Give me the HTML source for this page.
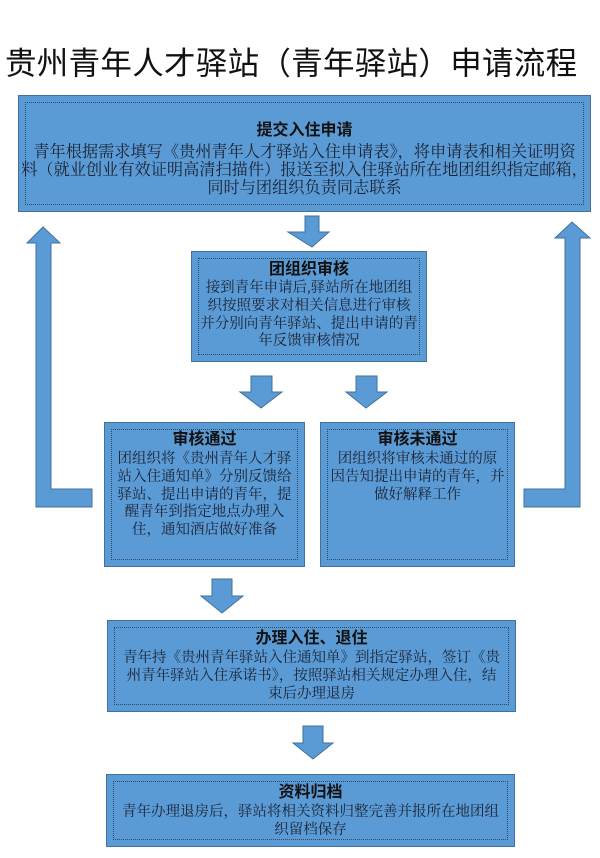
<!DOCTYPE html>
<html><head><meta charset="utf-8"><style>
html,body{margin:0;padding:0;background:#fff;width:600px;height:858px;overflow:hidden;position:relative;font-family:"Liberation Sans","Noto Sans CJK SC",sans-serif;}
.t{position:absolute;left:5px;top:38px;font-size:31.5px;color:#111;white-space:nowrap;letter-spacing:0.3px;}
.box{position:absolute;background:#5b9bd5;border:1.5px solid #41719c;box-sizing:border-box;}
.box .in{position:absolute;left:6px;right:6px;top:6px;bottom:6px;border:1px dotted #2b4a6a;}
.txt{position:absolute;left:-10px;right:-10px;text-align:center;color:#1a2233;font-family:"Liberation Serif","Noto Serif CJK SC",serif;white-space:nowrap;}
.h{font-family:"Liberation Sans","Noto Sans CJK SC",sans-serif;font-weight:bold;font-size:16px;color:#111;line-height:20px;}
.b{font-size:14.5px;line-height:17.8px;}
svg{position:absolute;left:0;top:0;}
</style></head><body>
<div class="t">贵州青年人才驿站（青年驿站）申请流程</div>
<svg width="600" height="858">
<g fill="#5b9bd5" stroke="#41719c" stroke-width="1">
<polygon points="305,216 319,216 319,232 329,232 312,247 288,232 305,232"/>
<polygon points="251,376 272,376 272,392 282,392 261,408 240,392 251,392"/>
<polygon points="356,376 377,376 377,392 387,392 366,408 346,392 356,392"/>
<polygon points="212,579 232,579 232,596 243,596 222,613 201,596 212,596"/>
<polygon points="303,726 323,726 323,743 333,743 313,759 293,743 303,743"/>
<polygon points="36,507 92,507 92,489 51,489 51,243 60,243 43,227 27,243 36,243"/>
<polygon points="580,507 524,507 524,489 565,489 565,238 555,238 572,222 590,238 580,238"/>
</g>
</svg>
<div class="box" style="left:18px;top:95px;width:573px;height:117px"><div class="in"></div>
<div class="txt h" style="top:25px">提交入住申请</div>
<div class="txt b" style="top:47px;font-size:16.2px;line-height:18px">青年根据需求填写《贵州青年人才驿站入住申请表》，将申请表和相关证明资<br>料（就业创业有效证明高清扫描件）报送至拟入住驿站所在地团组织指定邮箱，<br>同时与团组织负责同志联系</div>
</div>
<div class="box" style="left:191px;top:251px;width:236px;height:111px"><div class="in"></div>
<div class="txt h" style="top:8px">团组织审核</div>
<div class="txt b" style="top:28px">接到青年申请后,驿站所在地团组<br>织按照要求对相关信息进行审核<br>并分别向青年驿站、提出申请的青<br>年反馈审核情况</div>
</div>
<div class="box" style="left:104px;top:422px;width:201px;height:145px"><div class="in"></div>
<div class="txt h" style="top:7px">审核通过</div>
<div class="txt b" style="top:28px">团组织将《贵州青年人才驿<br>站入住通知单》分别反馈给<br>驿站、提出申请的青年，提<br>醒青年到指定地点办理入<br>住，通知酒店做好准备</div>
</div>
<div class="box" style="left:320px;top:422px;width:195px;height:145px"><div class="in"></div>
<div class="txt h" style="top:7px">审核未通过</div>
<div class="txt b" style="top:28px">团组织将审核未通过的原<br>因告知提出申请的青年，并<br>做好解释工作</div>
</div>
<div class="box" style="left:107px;top:620px;width:409px;height:92px"><div class="in"></div>
<div class="txt h" style="top:8px">办理入住、退住</div>
<div class="txt b" style="top:29px">青年持《贵州青年驿站入住通知单》到指定驿站，签订《贵<br>州青年驿站入住承诺书》，按照驿站相关规定办理入住，结<br>束后办理退房</div>
</div>
<div class="box" style="left:106px;top:774px;width:409px;height:73px"><div class="in"></div>
<div class="txt h" style="top:8px">资料归档</div>
<div class="txt b" style="top:29px">青年办理退房后，驿站将相关资料归整完善并报所在地团组<br>织留档保存</div>
</div>
</body></html>
